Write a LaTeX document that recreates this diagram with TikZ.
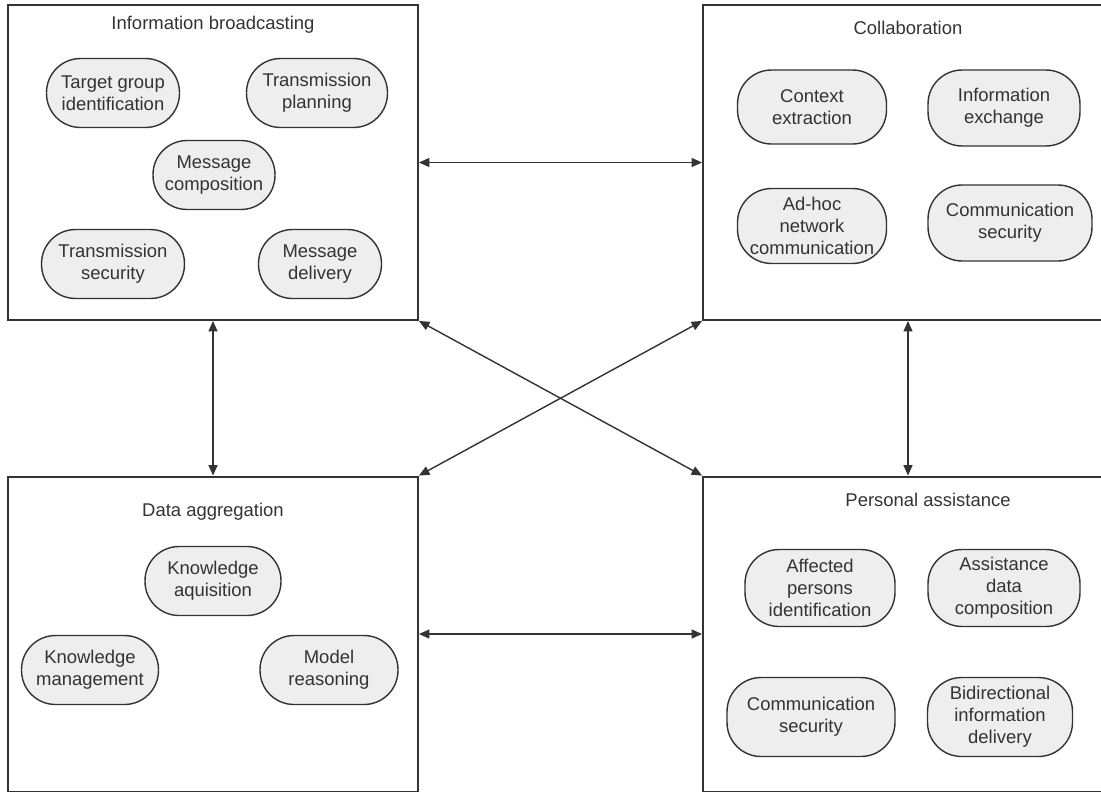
\documentclass[tikz,border=0pt]{standalone}
\usepackage{fontspec}
\setmainfont{Liberation Sans}
\usetikzlibrary{arrows.meta, positioning}
\definecolor{pillgray}{HTML}{EEEEEE}
\definecolor{inkgray}{HTML}{333333}

\begin{document}
\begin{tikzpicture}[
  x=0.02cm, y=-0.02cm,
  every node/.style={font=\fontsize{10.5}{12.5}\selectfont, text=inkgray},
  module/.style={rectangle, draw=inkgray, line width=1.1pt,
                 minimum width=8.2cm, minimum height=6.3cm, inner sep=0pt},
  heading/.style={inner sep=1pt},
  task/.style={rectangle, rounded corners=0.68cm, draw=inkgray, line width=0.8pt,
               fill=pillgray, align=center, minimum height=1.38cm, inner sep=1pt},
  link/.style={{Triangle[length=2.1mm,width=1.8mm]}-{Triangle[length=2.1mm,width=1.8mm]},
               line width=0.8pt, draw=inkgray}
]
  \useasboundingbox (0,0) rectangle (1101,795);

  % the four modules
  \node[module] (info)   at (213,162.5) {};
  \node[module] (collab) at (908,162.5) {};
  \node[module] (data)   at (213,634) {};
  \node[module] (assist) at (908,634) {};

  \node[heading, below=0.2cm of info.north] {Information broadcasting};
  \node[heading, below=0.29cm of collab.north] {Collaboration};
  \node[heading, below=0.51cm of data.north] {Data aggregation};
  \node[heading, below=0.3cm of assist.north, xshift=0.4cm] {Personal assistance};

  % information broadcasting
  \node[task, minimum width=2.66cm] (target)  at (113,93)  {Target group\\identification};
  \node[task, minimum width=2.82cm] (plan)    at (317,93)  {Transmission\\planning};
  \node[task, minimum width=2.44cm] (compose) at (214,175) {Message\\composition};
  \node[task, minimum width=2.86cm] (tsec)    at (113,264) {Transmission\\security};
  \node[task, minimum width=2.46cm] (deliver) at (320,264) {Message\\delivery};

  % collaboration
  \node[task, minimum width=2.98cm, minimum height=1.48cm] (context) at (812,107)  {Context\\extraction};
  \node[task, minimum width=3.04cm, minimum height=1.52cm] (exch)    at (1004,108) {Information\\exchange};
  \node[task, minimum width=2.98cm, minimum height=1.5cm]  (adhoc)   at (812,226)  {Ad-hoc\\network\\communication};
  \node[task, minimum width=3.28cm, minimum height=1.52cm] (csec)    at (1010,223) {Communication\\security};

  % data aggregation
  \node[task, minimum width=2.72cm] (acq)    at (213,581) {Knowledge\\aquisition};
  \node[task, minimum width=2.74cm] (manage) at (90,670)  {Knowledge\\management};
  \node[task, minimum width=2.76cm] (reason) at (329,670) {Model\\reasoning};

  % personal assistance
  \node[task, minimum width=3cm, minimum height=1.54cm]    (affected) at (820,588)  {Affected\\persons\\identification};
  \node[task, minimum width=3.04cm, minimum height=1.54cm] (adata)    at (1004,588) {Assistance\\data\\composition};
  \node[task, minimum width=3.36cm, minimum height=1.58cm] (psec)     at (811,717)  {Communication\\security};
  \node[task, minimum width=2.9cm, minimum height=1.58cm]  (bidir)    at (1000,717) {Bidirectional\\information\\delivery};

  \draw[link] (info) -- (collab);
  \draw[link] (data) -- (assist);
  \draw[link] (info) -- (data);
  \draw[link] (collab) -- (assist);
  \draw[link] (info.south east) -- (assist.north west);
  \draw[link] (collab.south west) -- (data.north east);
\end{tikzpicture}
\end{document}
